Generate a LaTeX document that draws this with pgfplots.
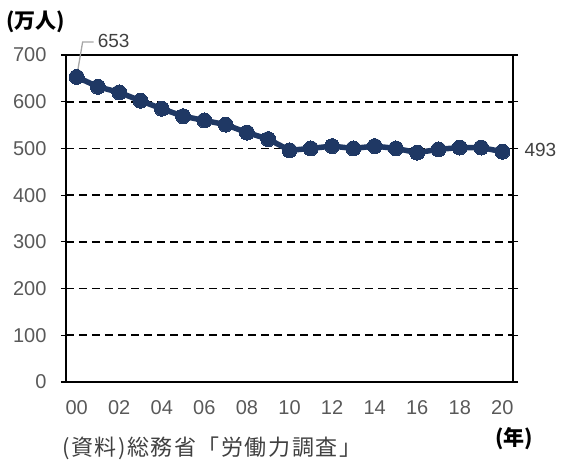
\documentclass[border=0pt]{standalone}
\usepackage{pgfplots}
\pgfplotsset{compat=1.18}
\usepackage{fontspec}
\setmainfont{Liberation Sans}
\newfontfamily\cjk{Noto Sans CJK JP}
\newfontfamily\cjksp[LetterSpace=7]{Noto Sans CJK JP}
\definecolor{navy}{HTML}{1F3864}
\definecolor{tickgray}{HTML}{595959}
\definecolor{lblgray}{HTML}{404040}
\definecolor{leadgray}{HTML}{A6A6A6}
\begin{document}
\begin{tikzpicture}
\path[use as bounding box] (-66pt,-77pt) rectangle (495pt,382pt);
\begin{axis}[
  at={(0pt,0pt)}, anchor=south west,
  scale only axis, width=447pt, height=327pt,
  xmin=-0.5, xmax=20.5, ymin=0, ymax=700,
  xtick={0,2,4,6,8,10,12,14,16,18,20},
  xticklabels={00,02,04,06,08,10,12,14,16,18,20},
  minor xtick={-0.5,0.5,...,20.5},
  ytick={0,100,...,700},
  tick align=outside,
  major tick length=5pt, minor tick length=6pt,
  xtick style={draw=none},
  minor x tick style={black, line width=1.2pt},
  ytick style={black, line width=1.2pt},
  ymajorgrids,
  major grid style={black, line width=1.8pt, dash pattern=on 8pt off 5pt},
  axis line style={black, line width=1.8pt},
  tick label style={font=\fontsize{20}{24}\selectfont, text=tickgray},
  yticklabel style={xshift=-11pt},
  xticklabel style={yshift=-10pt},
  /pgf/number format/assume math mode=true,
  clip=false,
]
\addplot[navy, line width=5.5pt, mark=*, mark size=7.5pt,
  mark options={fill=navy, draw=navy, line width=0pt}] coordinates {
(0,653) (1,632) (2,620) (3,602) (4,585) (5,569) (6,560) (7,551) (8,534) (9,520)
(10,496) (11,500) (12,505) (13,500) (14,505) (15,500) (16,491) (17,498) (18,502) (19,502) (20,493)
};
\draw[leadgray, line width=1.3pt] (axis cs:0,653) -- ++(6pt,35pt) -- ++(11pt,0pt);
\node[anchor=west, inner sep=0pt, text=lblgray, font=\fontsize{19}{22}\selectfont] at ([xshift=21pt,yshift=36pt]axis cs:0,653) {653};
\node[anchor=west, inner sep=0pt, text=lblgray, font=\fontsize{19}{22}\selectfont] at ([xshift=22pt,yshift=2pt]axis cs:20,493) {493};
\end{axis}
\node[font=\cjk\bfseries\fontsize{21}{24}\selectfont] at (-30pt,360pt) {(万人)};
\node[font=\cjk\bfseries\fontsize{21}{24}\selectfont] at (448pt,-57pt) {(年)};
\node[anchor=west, inner sep=0pt, text=lblgray, font=\cjksp\fontsize{22}{26}\selectfont] at (-4pt,-66pt) {(資料)総務省「労働力調査」};
\end{tikzpicture}
\end{document}
